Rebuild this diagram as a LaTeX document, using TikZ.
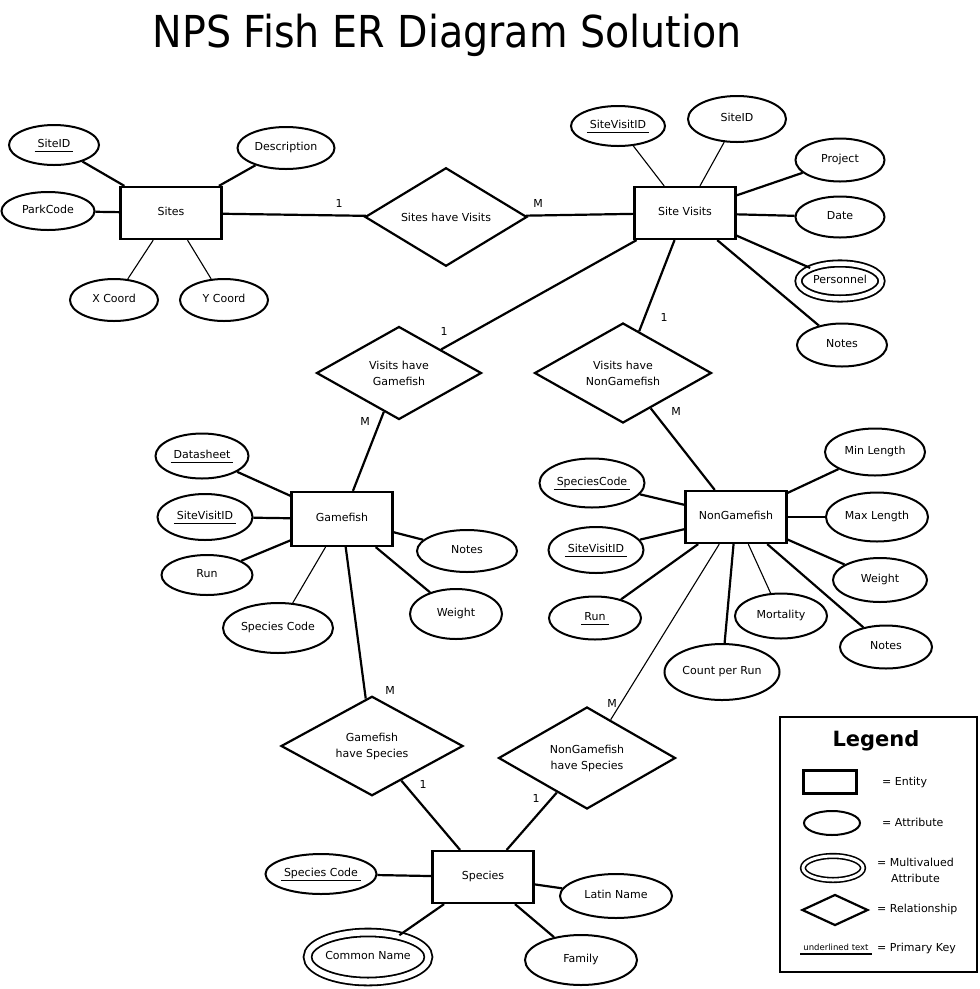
\documentclass[tikz,border=0pt]{standalone}
\usepackage{fontspec}
\setmainfont{DejaVu Sans}
\newfontfamily\titlefont{DejaVu Sans Condensed}
\usetikzlibrary{shapes.geometric}
\newcommand{\erfont}{\fontsize{11}{16}\selectfont}
%% underlined key text
\newcommand{\erkey}[1]{\setbox0=\hbox{\hspace{3pt}#1\hspace{3pt}}%
  \hspace{-3pt}\makebox[0pt][l]{\smash{\rule[-4.5pt]{\wd0}{1.6pt}}}\hspace{3pt}#1}
\tikzset{
  %% entity / attribute / relationship shapes
  erent/.style={rectangle,draw,line width=2.2pt,inner sep=0pt,
                minimum width=101pt,minimum height=52pt,
                font=\erfont,text height=8pt,text depth=2.5pt},
  eratt/.style={ellipse,draw,line width=2pt,inner sep=0pt,
                font=\erfont,text height=8pt,text depth=2.5pt},
  ermatt/.style={eratt,double,double distance=4.5pt,line width=1.8pt,
                 outer sep=auto},
  errel/.style={diamond,draw,line width=2.2pt,inner sep=0pt,
                font=\erfont,align=center},
  %% connectors
  erline/.style={line width=2.2pt},
  erthin/.style={line width=1.1pt},
  %% cardinality and legend text
  ercard/.style={font=\erfont,inner sep=0pt},
  erleg/.style={font=\erfont,anchor=west,align=center,inner sep=0pt},
}
\begin{document}
\begin{tikzpicture}[x=1pt,y=-1pt]
  \useasboundingbox (0,0) rectangle (980,989);
  \node[anchor=base,inner sep=0pt,font=\titlefont\fontsize{44}{50}\selectfont]
       (title) at (447,47) {NPS Fish ER Diagram Solution};

  %% Sites
  \node[erent] (Sites) at (171,213) {Sites};
  \node[eratt,minimum width=90pt,minimum height=40pt] (siID) at (54,145) {\erkey{SiteID}};
  \node[eratt,minimum width=97pt,minimum height=42pt] (siDesc) at (286,148) {Description};
  \node[eratt,minimum width=93pt,minimum height=38pt] (siPark) at (48,211) {ParkCode};
  \node[eratt,minimum width=88pt,minimum height=42pt] (siX) at (114,300) {X Coord};
  \node[eratt,minimum width=88pt,minimum height=42pt] (siY) at (224,300) {Y Coord};
  \draw[erline] (Sites) -- (siID);
  \draw[erline] (Sites) -- (siDesc);
  \draw[erline] (Sites) -- (siPark);
  \draw[erthin] (Sites) -- (siX);
  \draw[erthin] (Sites) -- (siY);

  %% Site Visits
  \node[erent] (Visits) at (685,213) {Site Visits};
  \node[eratt,minimum width=94pt,minimum height=40pt] (viSVID) at (618,126) {\erkey{SiteVisitID}};
  \node[eratt,minimum width=98pt,minimum height=46pt] (viSite) at (737,119) {SiteID};
  \node[eratt,minimum width=89pt,minimum height=43pt] (viProj) at (840,160) {Project};
  \node[eratt,minimum width=89pt,minimum height=41pt] (viDate) at (840,217) {Date};
  \node[ermatt,minimum width=83pt,minimum height=35pt] (viPers) at (840,281) {Personnel};
  \node[eratt,minimum width=90pt,minimum height=43pt] (viNotes) at (842,345) {Notes};
  \draw[erthin] (Visits) -- (viSVID);
  \draw[erthin] (Visits) -- (viSite);
  \draw[erline] (Visits) -- (viProj);
  \draw[erline] (Visits) -- (viDate);
  \draw[erline] (Visits) -- (viPers);
  \draw[erline] (Visits) -- (viNotes);

  %% relationships
  \node[errel,minimum width=162pt,minimum height=95pt] (relSV) at (446,217) {Sites have Visits};
  \node[errel,minimum width=165pt,minimum height=93pt] (relVG) at (399,373) {Visits have\\Gamefish};
  \node[errel,minimum width=177pt,minimum height=100pt] (relVN) at (623,373) {Visits have\\NonGamefish};
  \node[errel,minimum width=182pt,minimum height=95pt] (relGS) at (372,746) {Gamefish\\have Species};
  \node[errel,minimum width=177pt,minimum height=102pt] (relNS) at (587,758) {NonGamefish\\have Species};

  %% Gamefish
  \node[erent,minimum height=54pt] (Game) at (342,519) {Gamefish};
  \node[eratt,minimum width=93pt,minimum height=45pt] (gaData) at (202,456) {\erkey{Datasheet}};
  \node[eratt,minimum width=95pt,minimum height=46pt] (gaSVID) at (205,517) {\erkey{SiteVisitID}};
  \node[eratt,minimum width=91pt,minimum height=40pt] (gaRun) at (207,575) {Run};
  \node[eratt,minimum width=110pt,minimum height=50pt] (gaSpec) at (278,628) {Species Code};
  \node[eratt,minimum width=100pt,minimum height=42pt] (gaNotes) at (467,551) {Notes};
  \node[eratt,minimum width=92pt,minimum height=50pt] (gaWeight) at (456,614) {Weight};
  \draw[erline] (Game) -- (gaData);
  \draw[erline] (Game) -- (gaSVID);
  \draw[erline] (Game) -- (gaRun);
  \draw[erthin] (Game) -- (gaSpec);
  \draw[erline] (Game) -- (gaNotes);
  \draw[erline] (Game) -- (gaWeight);

  %% NonGamefish
  \node[erent] (NonGame) at (736,517) {NonGamefish};
  \node[eratt,minimum width=105pt,minimum height=49pt] (ngSpec) at (592,483) {\erkey{SpeciesCode}};
  \node[eratt,minimum width=95pt,minimum height=46pt] (ngSVID) at (596,550) {\erkey{SiteVisitID}};
  \node[eratt,minimum width=92pt,minimum height=43pt] (ngRun) at (595,618) {\erkey{Run}};
  \node[eratt,minimum width=115pt,minimum height=56pt] (ngCount) at (722,672) {Count per Run};
  \node[eratt,minimum width=92pt,minimum height=45pt] (ngMort) at (781,616) {Mortality};
  \node[eratt,minimum width=92pt,minimum height=43pt] (ngNotes) at (886,647) {Notes};
  \node[eratt,minimum width=94pt,minimum height=44pt] (ngWeight) at (880,580) {Weight};
  \node[eratt,minimum width=102pt,minimum height=49pt] (ngMax) at (877,517) {Max Length};
  \node[eratt,minimum width=100pt,minimum height=47pt] (ngMin) at (875,452) {Min Length};
  \draw[erline] (NonGame) -- (ngSpec);
  \draw[erline] (NonGame) -- (ngSVID);
  \draw[erline] (NonGame) -- (ngRun);
  \draw[erline] (NonGame) -- (ngCount);
  \draw[erthin] (NonGame) -- (ngMort);
  \draw[erline] (NonGame) -- (ngNotes);
  \draw[erline] (NonGame) -- (ngWeight);
  \draw[erline] (NonGame) -- (ngMax);
  \draw[erline] (NonGame) -- (ngMin);

  %% Species
  \node[erent] (Species) at (483,877) {Species};
  \node[eratt,minimum width=111pt,minimum height=40pt] (spCode) at (321,874) {\erkey{Species Code}};
  \node[ermatt,double distance=6pt,minimum width=110pt,minimum height=49pt] (spCommon) at (368,957) {Common Name};
  \node[eratt,minimum width=112pt,minimum height=44pt] (spLatin) at (616,896) {Latin Name};
  \node[eratt,minimum width=112pt,minimum height=50pt] (spFamily) at (581,960) {Family};
  \draw[erline] (Species) -- (spCode);
  \draw[erline] (Species) -- (spCommon);
  \draw[erline] (Species) -- (spLatin);
  \draw[erline] (Species) -- (spFamily);

  %% relationship links
  \draw[erline] (Sites) -- (relSV);
  \draw[erline] (relSV) -- (Visits);
  \draw[erline] (Visits) -- (relVG);
  \draw[erline] (Visits) -- (relVN);
  \draw[erline] (relVG) -- (Game);
  \draw[erline] (relVN) -- (NonGame);
  \draw[erline] (Game) -- (relGS);
  \draw[erthin] (NonGame) -- (relNS);
  \draw[erline] (relGS) -- (Species);
  \draw[erline] (relNS) -- (Species);
  \node[ercard] (cSV1) at (339,203) {1};
  \node[ercard] (cSVM) at (538,203) {M};
  \node[ercard] (cVG1) at (444,331) {1};
  \node[ercard] (cVGM) at (365,421) {M};
  \node[ercard] (cVN1) at (664,317) {1};
  \node[ercard] (cVNM) at (676,411) {M};
  \node[ercard] (cGSM) at (390,690) {M};
  \node[ercard] (cGS1) at (423,784) {1};
  \node[ercard] (cNSM) at (612,703) {M};
  \node[ercard] (cNS1) at (536,798) {1};

  %% legend
  \draw[erline] (780,717) rectangle (977,972);
  \node[font=\fontsize{21}{24}\selectfont\bfseries,inner sep=0pt] (legTitle) at (876,741) {Legend};
  \node[erent,minimum width=53pt,minimum height=23pt] (legEnt) at (830,782) {};
  \node[eratt,minimum width=56pt,minimum height=24pt] (legAtt) at (832,823) {};
  \node[ermatt,double distance=3pt,line width=1.6pt,minimum width=60pt,minimum height=24pt] (legMatt) at (833,868) {};
  \node[errel,minimum width=66pt,minimum height=31pt] (legRel) at (835,910) {};
  \node[inner sep=0pt,font=\fontsize{8.5}{10}\selectfont] (legKey) at (836,947) {\erkey{underlined text}};
  \node[erleg] (legEntTxt) at (882,782) {= Entity};
  \node[erleg] (legAttTxt) at (882,822) {= Attribute};
  \node[erleg] (legMattTxt) at (877,870) {= Multivalued\\Attribute};
  \node[erleg] (legRelTxt) at (877,909) {= Relationship};
  \node[erleg] (legKeyTxt) at (877,948) {= Primary Key};
\end{tikzpicture}
\end{document}
